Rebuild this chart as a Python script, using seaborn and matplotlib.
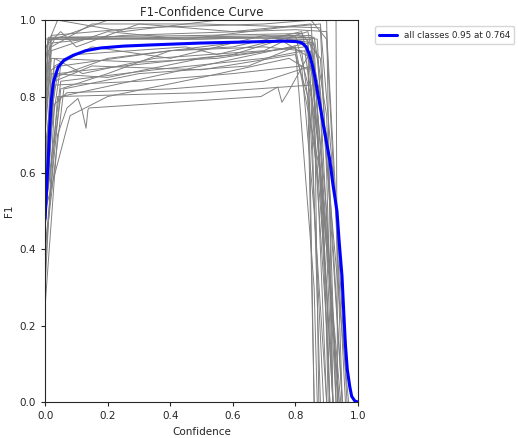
import numpy as np
import pandas as pd
import matplotlib
matplotlib.use('Agg')
import matplotlib.pyplot as plt
import seaborn as sns

# ── data (confidence, F1) keypoints ──
# all-classes curve
all_conf = [0.0, 0.005, 0.01, 0.015, 0.02, 0.026, 0.035, 0.042, 0.06, 0.09,
            0.13, 0.176, 0.25, 0.335, 0.495, 0.65, 0.764, 0.80, 0.82, 0.835,
            0.845, 0.855, 0.865, 0.88, 0.895, 0.91, 0.92, 0.933, 0.94, 0.949,
            0.955, 0.96, 0.966, 0.974, 0.98, 0.99, 1.0]
all_f1 = [0.48, 0.56, 0.634, 0.72, 0.79, 0.835, 0.86, 0.877, 0.895, 0.908,
          0.92, 0.927, 0.932, 0.935, 0.94, 0.943, 0.945, 0.944, 0.941, 0.93,
          0.91, 0.88, 0.84, 0.77, 0.70, 0.634, 0.57, 0.50, 0.42, 0.33,
          0.23, 0.15, 0.085, 0.04, 0.015, 0.003, 0.0]
best_f1, best_conf = 0.95, 0.764

# per-class curves
c01 = [(0, 0.70), (0.01, 0.95), (0.40, 0.955), (0.80, 0.96), (0.87, 0.95), (0.93, 0.0)]
c02 = [(0, 0.80), (0.01, 0.955), (0.50, 0.96), (0.82, 0.965), (0.88, 0.90), (0.95, 0.0)]
c03 = [(0, 0.85), (0.02, 0.96), (0.30, 0.98), (0.70, 0.99), (0.85, 1.0), (0.90, 0.95), (0.96, 0.0)]
c04 = [(0, 0.90), (0.03, 0.95), (0.20, 1.0), (0.93, 1.0), (0.935, 0.0)]
c05 = [(0, 0.75), (0.02, 0.93), (0.15, 0.99), (0.50, 0.99), (0.88, 0.98), (0.90, 0.60), (0.92, 0.0)]
c06 = [(0, 0.93), (0.05, 0.97), (0.10, 0.93), (0.30, 0.99), (0.60, 0.97), (0.85, 0.99), (0.94, 0.0)]
c07 = [(0, 0.55), (0.03, 0.85), (0.20, 0.90), (0.60, 0.94), (0.85, 0.95), (0.90, 0.50), (0.935, 0.0)]
c08 = [(0, 0.60), (0.05, 0.88), (0.40, 0.92), (0.70, 0.93), (0.82, 0.92), (0.87, 0.60), (0.90, 0.0)]
c09 = [(0, 0.70), (0.02, 0.90), (0.30, 0.89), (0.55, 0.90), (0.80, 0.93), (0.86, 0.30), (0.87, 0.0)]
c10 = [(0, 0.65), (0.04, 0.86), (0.25, 0.88), (0.60, 0.91), (0.84, 0.97), (0.88, 0.80), (0.905, 0.0)]
c11 = [(0, 0.50), (0.05, 0.84), (0.35, 0.87), (0.70, 0.90), (0.83, 0.92), (0.87, 0.70), (0.92, 0.0)]
c12 = [(0, 0.40), (0.06, 0.82), (0.30, 0.86), (0.65, 0.88), (0.80, 0.93), (0.88, 0.60), (0.94, 0.0)]
c13 = [(0, 0.60), (0.02, 0.87), (0.10, 0.91), (0.45, 0.93), (0.55, 0.91), (0.75, 0.95), (0.85, 0.90), (0.945, 0.0)]
c14 = [(0, 0.30), (0.03, 0.78), (0.07, 0.81), (0.40, 0.82), (0.70, 0.84), (0.85, 0.88), (0.90, 0.40), (0.92, 0.0)]
c15 = [(0, 0.25), (0.04, 0.70), (0.07, 0.77), (0.105, 0.795), (0.118, 0.765), (0.131, 0.717),
       (0.137, 0.765), (0.14, 0.77), (0.69, 0.80), (0.744, 0.825), (0.757, 0.785), (0.776, 0.81),
       (0.85, 0.92), (0.88, 0.60), (0.92, 0.0)]
c16 = [(0, 0.35), (0.04, 0.80), (0.50, 0.81), (0.85, 0.83), (0.90, 0.30), (0.91, 0.0)]
c17 = [(0, 0.45), (0.03, 0.83), (0.30, 0.84), (0.60, 0.86), (0.82, 0.88), (0.86, 0.50), (0.90, 0.0)]
c18 = [(0, 0.50), (0.05, 0.80), (0.50, 0.88), (0.84, 0.94), (0.90, 0.20), (0.91, 0.0)]
c19 = [(0, 0.55), (0.02, 0.86), (0.20, 0.85), (0.50, 0.90), (0.83, 0.93), (0.86, 0.85), (0.875, 0.0)]
c20 = [(0, 0.40), (0.05, 0.82), (0.20, 0.86), (0.40, 0.92), (0.60, 0.93), (0.82, 0.97), (0.90, 0.70), (0.95, 0.0)]
c21 = [(0, 0.88), (0.01, 0.95), (0.60, 0.955), (0.84, 0.95), (0.86, 0.0)]
c22 = [(0, 0.82), (0.02, 0.94), (0.25, 0.96), (0.80, 0.975), (0.90, 0.97), (0.965, 0.0)]
c23 = [(0, 0.60), (0.03, 0.90), (0.12, 0.86), (0.35, 0.90), (0.70, 0.92), (0.80, 0.96), (0.85, 0.80), (0.88, 0.0)]
c24 = [(0, 0.72), (0.02, 0.92), (0.20, 0.97), (0.45, 0.95), (0.75, 0.98), (0.88, 0.99), (0.93, 0.50), (0.95, 0.0)]
c25 = [(0, 0.50), (0.08, 0.75), (0.20, 0.80), (0.50, 0.85), (0.78, 0.90), (0.84, 0.87), (0.89, 0.0)]
c26 = [(0, 0.92), (0.04, 1.0), (0.25, 0.97), (0.55, 1.0), (0.90, 1.0), (0.92, 0.0)]
c27 = [(0, 0.78), (0.02, 0.95), (0.40, 0.95), (0.86, 0.955), (0.90, 0.75), (0.93, 0.0)]
c28 = [(0, 0.66), (0.03, 0.88), (0.15, 0.93), (0.40, 0.90), (0.70, 0.96), (0.86, 0.94), (0.91, 0.0)]
c29 = [(0, 0.95), (0.05, 0.955), (0.50, 0.95), (0.85, 0.96), (0.87, 0.90), (0.97, 0.0)]
c30 = [(0, 0.45), (0.03, 0.84), (0.15, 0.88), (0.50, 0.87), (0.80, 0.91), (0.84, 0.80), (0.86, 0.0)]
gray_curves = [c01, c02, c03, c04, c05, c06, c07, c08, c09, c10, c11, c12, c13, c14, c15,
               c16, c17, c18, c19, c20, c21, c22, c23, c24, c25, c26, c27, c28, c29, c30]

# ── plot ─────────────────────────────────────────────────────
sns.set_theme(style='ticks', rc={'font.size': 7.5, 'axes.linewidth': 0.8})
fig = plt.figure(figsize=(5.18, 4.38), dpi=100)
ax = fig.add_axes([0.087, 0.082, 0.604, 0.872])

for pts in gray_curves:
    cx, cy = zip(*pts)
    sns.lineplot(x=list(cx), y=list(cy), ax=ax, color='grey', linewidth=0.7,
                 estimator=None, sort=False)

sns.lineplot(x=all_conf, y=all_f1, ax=ax, color='blue', linewidth=2.2,
             estimator=None, sort=False)
blue = ax.get_lines()[-1]

ax.set_xlim(0, 1)
ax.set_ylim(0, 1)
ax.set_xlabel('Confidence', fontsize=7.5)
ax.set_ylabel('F1', fontsize=7.5)
ax.set_title('F1-Confidence Curve', fontsize=8.5, pad=3)
ax.tick_params(labelsize=7.5, length=3, width=0.8)
ax.legend([blue], [f'all classes {best_f1:.2f} at {best_conf:.3f}'],
          bbox_to_anchor=(1.04, 0.995), loc='upper left', fontsize=6.3,
          frameon=True, handlelength=2.0, borderpad=0.5)

plt.savefig('out.png', dpi=100)
plt.close()
